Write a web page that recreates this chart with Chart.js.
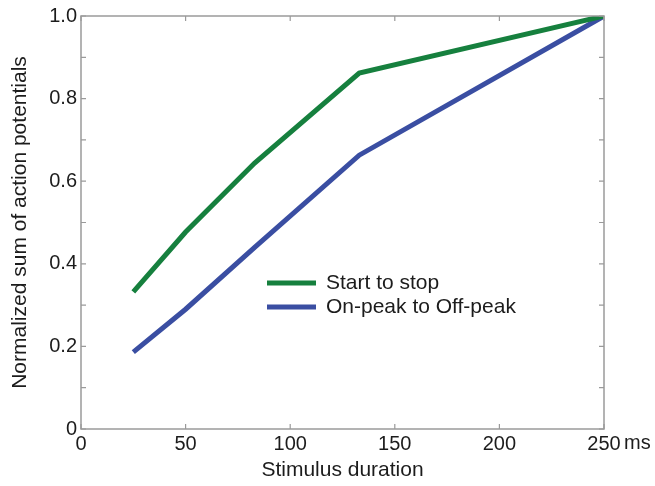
<!DOCTYPE html>
<html>
<head>
<meta charset="utf-8">
<script src="https://cdn.jsdelivr.net/npm/chart.js@4.4.1/dist/chart.umd.min.js"></script>
<style>
  html, body { margin: 0; padding: 0; background: #fff; }
  #wrap { width: 655px; height: 486px; position: relative; }
</style>
</head>
<body>
<div id="wrap"><canvas id="myChart"></canvas></div>
<script>
// stimulus durations (ms) and normalized sums
var durations = [25, 50, 83, 133, 250];
var startToStop = [0.332, 0.477, 0.644, 0.862, 1.0];
var onPeakToOffPeak = [0.186, 0.29, 0.44, 0.663, 1.0];
var seriesNames = ['Start to stop', 'On-peak to Off-peak'];
var xTicks = [0, 50, 100, 150, 200, 250];
var yTickLabels = ['0', '0.2', '0.4', '0.6', '0.8', '1.0'];

var green = 'rgb(22, 128, 62)';
var blue = 'rgb(58, 78, 162)';
var axisGrey = '#9a9a9a';
var textCol = '#1c1c1c';
var fontFam = '"Liberation Sans", Arial, Helvetica, sans-serif';

function pts(xs, ys) {
  return xs.map(function (x, i) { return { x: x, y: ys[i] }; });
}

// box round the plot, ticks pointing inward, a small legend, and the "ms" unit
const boxPlugin = {
  id: 'box',
  afterDraw(chart) {
    var c = chart.ctx, a = chart.chartArea;
    var xs = chart.scales.x, ys = chart.scales.y;
    c.save();
    c.strokeStyle = axisGrey;
    c.lineWidth = 1.5;
    c.strokeRect(a.left, a.top, a.right - a.left, a.bottom - a.top);
    c.lineWidth = 1.2;
    c.beginPath();
    xs.ticks.forEach(function (t) {
      var px = xs.getPixelForValue(t.value);
      c.moveTo(px, a.bottom); c.lineTo(px, a.bottom - 5);
      c.moveTo(px, a.top); c.lineTo(px, a.top + 5);
    });
    ys.ticks.forEach(function (t) {
      var py = ys.getPixelForValue(t.value);
      c.moveTo(a.left, py); c.lineTo(a.left + 5, py);
      c.moveTo(a.right, py); c.lineTo(a.right - 5, py);
    });
    c.stroke();

    // unit after the last x label
    c.fillStyle = textCol;
    c.font = '20px ' + fontFam;
    c.textBaseline = 'middle';
    c.textAlign = 'left';
    c.fillText('ms', xs.getPixelForValue(250) + 20, a.bottom + 14);

    // legend inside the plot
    var lx = a.left + 186, ly = a.top + 267;
    chart.data.datasets.forEach(function (ds, i) {
      var y = ly + i * 24;
      c.strokeStyle = ds.borderColor;
      c.lineWidth = 5;
      c.beginPath();
      c.moveTo(lx, y); c.lineTo(lx + 49, y);
      c.stroke();
      c.fillStyle = textCol;
      c.font = '21px ' + fontFam;
      c.fillText(ds.label, lx + 59, y);
    });
    c.restore();
  }
};

var ctx = document.getElementById('myChart');

const datachart = {
  datasets: [{
    label: seriesNames[0],
    data: pts(durations, startToStop),
    borderColor: green,
    backgroundColor: green,
    borderWidth: 5,
    pointRadius: 0,
    tension: 0
  }, {
    label: seriesNames[1],
    data: pts(durations, onPeakToOffPeak),
    borderColor: blue,
    backgroundColor: blue,
    borderWidth: 5,
    pointRadius: 0,
    tension: 0
  }]
};

const config = {
  type: 'line',
  data: datachart,
  plugins: [boxPlugin],
  options: {
    responsive: true,
    maintainAspectRatio: false,
    animation: false,
    layout: { padding: { top: 16, right: 51, left: 0, bottom: 0 } },
    plugins: {
      legend: { display: false },
      tooltip: { enabled: false }
    },
    scales: {
      x: {
        type: 'linear',
        min: 0,
        max: 250,
        afterBuildTicks: function (s) {
          s.ticks = xTicks.map(function (v) { return { value: v }; });
        },
        afterFit: function (s) { s.height = 57; },
        border: { display: false },
        grid: { display: false, drawTicks: false },
        ticks: {
          color: textCol,
          font: { family: fontFam, size: 20 },
          padding: 3,
          maxRotation: 0,
          autoSkip: false,
          callback: function (v) { return String(v); }
        },
        title: {
          display: true,
          text: 'Stimulus duration',
          color: textCol,
          font: { family: fontFam, size: 21 },
          padding: { top: 0, bottom: 3 }
        }
      },
      y: {
        min: 0,
        max: 1,
        afterFit: function (s) { s.width = 81; },
        border: { display: false },
        grid: { display: false, drawTicks: false },
        ticks: {
          stepSize: 0.1,
          color: textCol,
          font: { family: fontFam, size: 20 },
          padding: 4,
          autoSkip: false,
          callback: function (v) {
            var k = Math.round(v * 10);
            return k % 2 === 0 ? yTickLabels[k / 2] : '';
          }
        },
        title: {
          display: true,
          text: 'Normalized sum of action potentials',
          color: textCol,
          font: { family: fontFam, size: 21 },
          padding: { top: 8, bottom: 0 }
        }
      }
    }
  }
};
const myChart = new Chart(ctx, config);
</script>
</body>
</html>
